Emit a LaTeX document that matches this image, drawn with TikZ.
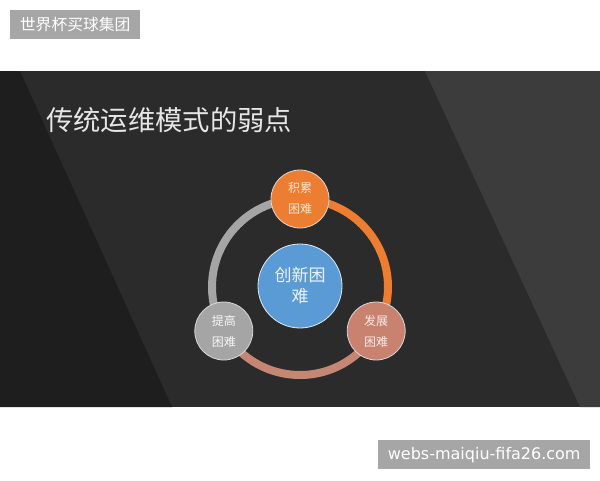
\documentclass[tikz,border=0pt]{standalone}
\usepackage{fontspec}
\newfontfamily\cjk{Noto Sans CJK SC}
\setsansfont{DejaVu Sans}
\definecolor{labelgrey}{HTML}{A6A6A6}
\definecolor{slidemain}{HTML}{2B2B2B}
\definecolor{slidedark}{HTML}{1E1E1E}
\definecolor{slidelight}{HTML}{3C3C3C}
\definecolor{offorange}{HTML}{ED7D31}
\definecolor{offgrey}{HTML}{A5A5A5}
\definecolor{offblue}{HTML}{5B9BD5}
\definecolor{offrose}{HTML}{C9826F}
\definecolor{titlecol}{HTML}{E6E6E6}
\tikzset{
  labelbox/.style={fill=labelgrey, text=white, inner sep=0pt, anchor=north west},
  ringarc/.style={line width=8pt},
  smallnode/.style={circle, minimum size=58pt, inner sep=0pt, draw=white!85!black, line width=0.8pt,
     align=center, font=\cjk\fontsize{12}{21}\selectfont},
  bignode/.style={circle, minimum size=84pt, inner sep=0pt, draw=white!80!offblue, line width=0.8pt,
     align=center, font=\cjk\fontsize{17}{21}\selectfont}
}
\begin{document}
\begin{tikzpicture}[x=1pt,y=-1pt]
\useasboundingbox (0,0) rectangle (600,480);
\fill[white] (0,0) rectangle (600,480);
% slide background
\fill[slidemain] (0,71) rectangle (600,407);
\fill[slidedark] (0,71) -- (20,71) -- (172,407) -- (0,407) -- cycle;
\fill[slidelight] (425,71) -- (600,71) -- (600,407) -- (580,407) -- cycle;
% labels
\node[labelbox, minimum width=130pt, minimum height=29pt] (toplabel) at (10,10)
  {\cjk\fontsize{15.8}{17}\selectfont 世界杯买球集团};
\node[labelbox, minimum width=212pt, minimum height=29pt] (botlabel) at (378,440)
  {\sffamily\fontsize{16}{18}\selectfont webs-maiqiu-fifa26.com};
% title
\node[anchor=west, text=titlecol, inner sep=0pt, font=\cjk\fontsize{27.3}{30}\selectfont] (title) at (46,120)
  {传统运维模式的弱点};
% ring positions
\coordinate (ctr) at (300,287);
\coordinate (ptop) at (300,199);
\coordinate (pleft) at (223.8,331);
\coordinate (pright) at (376.2,331);
% ring arcs (radius as a dimension: angles are page angles)
\draw[ringarc, offgrey] (ptop) arc[start angle=90, end angle=210, radius=88pt];
\draw[ringarc, offorange] (ptop) arc[start angle=90, end angle=-30, radius=88pt];
\draw[ringarc, offrose!90!offgrey] (pleft) arc[start angle=210, end angle=330, radius=88pt];
% nodes
\node[bignode, fill=offblue, text=white!88!offblue] (center) at (300,286) {创新困\\难};
\node[smallnode, fill=offorange, text=white!82!offorange] (accum) at (ptop) {积累\\困难};
\node[smallnode, fill=offgrey, text=white!90!offgrey] (improve) at (pleft) {提高\\困难};
\node[smallnode, fill=offrose, text=white!85!offrose] (develop) at (pright) {发展\\困难};
\end{tikzpicture}
\end{document}
